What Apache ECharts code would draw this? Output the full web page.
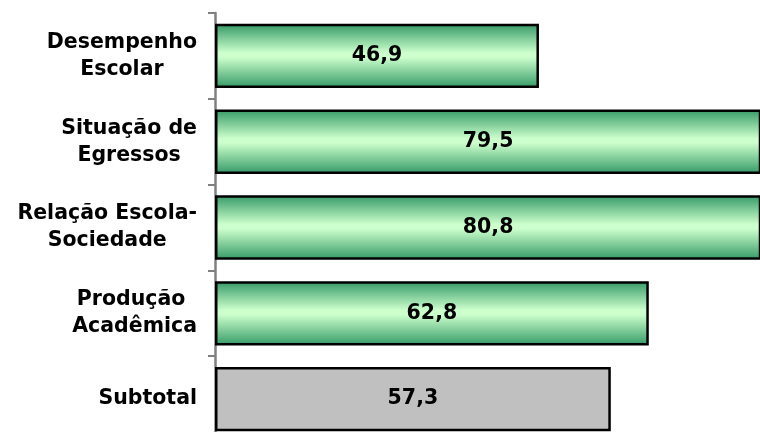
<!DOCTYPE html>
<html>
<head>
<meta charset="utf-8">
<script src="https://cdn.jsdelivr.net/npm/echarts@6/dist/echarts.min.js"></script>
<style>
  html, body { margin: 0; padding: 0; background: #ffffff; }
  #chart { width: 760px; height: 432px; }
</style>
</head>
<body>
<div id="chart"></div>
<script>
  // 类目与数值
  var categories = ['Desempenho\nEscolar', 'Situação de\nEgressos', 'Relação Escola-\nSociedade', 'Produção \nAcadêmica', 'Subtotal'];
  var values = [46.9, 79.5, 80.8, 62.8, 57.3];
  var isSubtotal = [false, false, false, false, true];

  var greenFill = new echarts.graphic.LinearGradient(0, 0, 0, 1, [
    { offset: 0, color: '#339966' },
    { offset: 0.45, color: '#ccffcc' },
    { offset: 0.52, color: '#ccffcc' },
    { offset: 1, color: '#339966' }
  ]);

  var myChart = echarts.init(document.getElementById('chart'));
  var option = {
    animation: false,
    grid: {
      left: 215,
      right: 0,
      top: 13,
      height: 429, // 最后一个类目延伸到画面下方
      outerBoundsMode: 'none'
    },
    xAxis: {
      type: 'value',
      min: 0,
      max: 78.9,
      show: false
    },
    yAxis: {
      type: 'category',
      inverse: true,
      data: categories,
      axisLine: { show: true, lineStyle: { color: '#808080', width: 2.5 } },
      axisTick: { show: true, length: 7, lineStyle: { color: '#808080', width: 2 } },
      axisLabel: {
        margin: 18,
        formatter: function (v) {
          return v.split('\n').map(function (s) { return '{a|' + s + '}'; }).join('\n');
        },
        rich: {
          a: {
            align: 'center',
            fontFamily: 'DejaVu Sans',
            fontWeight: 'bold',
            fontSize: 20.5,
            lineHeight: 27,
            color: '#000000'
          }
        }
      }
    },
    series: [{
      type: 'bar',
      clip: true,
      barCategoryGap: '25%',
      data: values.map(function (v, i) {
        return {
          value: v,
          itemStyle: {
            color: isSubtotal[i] ? '#c0c0c0' : greenFill,
            borderColor: '#000000',
            borderWidth: 2.5
          }
        };
      }),
      label: {
        show: true,
        position: 'inside',
        fontFamily: 'DejaVu Sans',
        fontWeight: 'bold',
        fontSize: 20.5,
        color: '#000000',
        formatter: function (p) { return p.value.toFixed(1).replace('.', ','); }
      }
    }]
  };
  myChart.setOption(option, true);
</script>
</body>
</html>
